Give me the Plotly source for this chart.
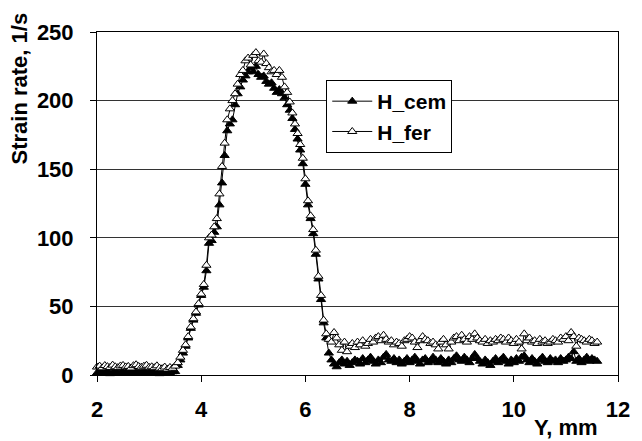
import plotly.graph_objects as go

# Y position along the specimen, mm
x_mm = [
    2.00, 2.05, 2.10, 2.15, 2.20, 2.25, 2.30, 2.35, 2.40, 2.45,
    2.50, 2.55, 2.60, 2.65, 2.70, 2.75, 2.80, 2.85, 2.90, 2.95,
    3.00, 3.05, 3.10, 3.15, 3.20, 3.25, 3.30, 3.35, 3.40, 3.45,
    3.50, 3.55, 3.60, 3.65, 3.70, 3.75, 3.80, 3.85, 3.90, 3.95,
    4.00, 4.05, 4.10, 4.15, 4.20, 4.25, 4.30, 4.35, 4.40, 4.45,
    4.50, 4.55, 4.60, 4.65, 4.70, 4.75, 4.80, 4.85, 4.90, 4.95,
    5.00, 5.05, 5.10, 5.15, 5.20, 5.25, 5.30, 5.35, 5.40, 5.45,
    5.50, 5.55, 5.60, 5.65, 5.70, 5.75, 5.80, 5.85, 5.90, 5.95,
    6.00, 6.05, 6.10, 6.15, 6.20, 6.25, 6.30, 6.35, 6.40, 6.45,
    6.50, 6.55, 6.60, 6.65, 6.70, 6.75, 6.80, 6.85, 6.90, 6.95,
    7.00, 7.05, 7.10, 7.15, 7.20, 7.25, 7.30, 7.35, 7.40, 7.45,
    7.50, 7.55, 7.60, 7.65, 7.70, 7.75, 7.80, 7.85, 7.90, 7.95,
    8.00, 8.05, 8.10, 8.15, 8.20, 8.25, 8.30, 8.35, 8.40, 8.45,
    8.50, 8.55, 8.60, 8.65, 8.70, 8.75, 8.80, 8.85, 8.90, 8.95,
    9.00, 9.05, 9.10, 9.15, 9.20, 9.25, 9.30, 9.35, 9.40, 9.45,
    9.50, 9.55, 9.60, 9.65, 9.70, 9.75, 9.80, 9.85, 9.90, 9.95,
    10.00, 10.05, 10.10, 10.15, 10.20, 10.25, 10.30, 10.35, 10.40, 10.45,
    10.50, 10.55, 10.60, 10.65, 10.70, 10.75, 10.80, 10.85, 10.90, 10.95,
    11.00, 11.05, 11.10, 11.15, 11.20, 11.25, 11.30, 11.35, 11.40, 11.45,
    11.50, 11.55, 11.60,
]

# Strain rate, 1/s
h_cem = [
    1.5, 2.0, 1.2, 1.8, 2.2, 1.0, 1.6, 2.4, 1.3, 1.9,
    2.1, 1.4, 1.7, 2.5, 1.1, 1.8, 2.0, 1.5, 2.3, 1.2,
    1.6, 1.9, 1.4, 2.2, 1.0, 1.7, 1.3, 2.0, 1.5, 2.4,
    2.5, 7, 11, 16, 21, 27, 34, 40, 45, 51,
    58, 64, 76, 96, 98, 104, 108, 124, 140, 160,
    178, 183, 186, 197, 205, 210, 215, 218, 221, 224,
    221, 225, 219, 217, 218, 214, 212, 213, 209, 206,
    208, 205, 202, 197, 193, 187, 179, 172, 164, 154,
    139, 124, 114, 103, 88, 70, 55, 38, 27, 16,
    11, 8, 6, 9, 11, 8, 10, 7, 9, 11,
    10, 8, 12, 9, 11, 13, 10, 8, 11, 9,
    13, 15, 11, 10, 12, 9, 11, 8, 10, 12,
    9, 11, 13, 10, 8, 11, 12, 9, 10, 13,
    11, 9, 12, 10, 8, 11, 9, 12, 14, 11,
    10, 13, 11, 9, 12, 15, 12, 10, 8, 11,
    9, 7, 10, 12, 9, 11, 13, 10, 8, 11,
    9, 12, 10, 13, 14, 11, 9, 12, 10, 8,
    11, 13, 10, 9, 12, 10, 11, 9, 12, 10,
    11, 13, 12, 17, 10, 12, 9, 11, 13, 10,
    12, 11, 10,
]

h_fer = [
    5.8, 6.5, 5.2, 6.9, 6.1, 5.5, 7.2, 6.0, 5.4, 6.6,
    7.0, 5.9, 6.3, 5.1, 6.8, 7.5, 6.2, 5.7, 6.4, 7.1,
    5.6, 6.0, 5.3, 6.7, 5.0, 4.6, 5.8, 4.3, 5.5, 4.9,
    6.5, 9, 13, 18, 22, 28, 35, 41, 46, 52,
    59, 66, 80, 100, 102, 108, 114, 132, 152, 169,
    186, 194, 200, 205, 212, 219, 222, 229, 231, 226,
    233, 235, 229, 228, 234, 227, 224, 221, 222, 219,
    222, 217, 210, 206, 199, 191, 183, 176, 168, 158,
    143, 127, 116, 106, 91, 72, 58, 40, 30, 26,
    24, 31, 27, 22, 18, 24, 17, 21, 23, 20,
    24, 22, 25, 21, 23, 26, 24, 27, 28, 25,
    29, 26, 24, 25, 22, 24, 23, 21, 25, 26,
    28, 27, 24, 20, 25, 28, 26, 25, 23, 24,
    22, 19, 24, 26, 22, 19, 24, 27, 28, 25,
    29, 26, 24, 28, 26, 30, 27, 25, 24, 26,
    23, 25, 24, 26, 25, 27, 26, 24, 27, 25,
    23, 26, 24, 19, 30, 25, 27, 24, 25, 23,
    26, 24, 25, 23, 24, 26, 25, 24, 27, 26,
    28, 25, 31, 28, 21, 27, 26, 25, 24, 26,
    25, 23, 24,
]

assert len(x_mm) == len(h_cem) == len(h_fer)

x_ticks = [2, 4, 6, 8, 10, 12]
y_ticks = [0, 50, 100, 150, 200, 250]

FONT = "Liberation Sans, Arial, sans-serif"

fig = go.Figure()
fig.add_trace(go.Scatter(
    x=x_mm, y=h_cem, name="H_cem", mode="lines+markers",
    line=dict(color="black", width=1),
    marker=dict(symbol="triangle-up", size=8, color="black",
                line=dict(color="black", width=1)),
    cliponaxis=False,
))
fig.add_trace(go.Scatter(
    x=x_mm, y=h_fer, name="H_fer", mode="lines+markers",
    line=dict(color="black", width=1),
    marker=dict(symbol="triangle-up", size=8, color="white",
                line=dict(color="black", width=1)),
    cliponaxis=False,
))

fig.update_layout(
    width=634, height=433,
    margin=dict(l=89, r=15, t=16, b=66),
    paper_bgcolor="white", plot_bgcolor="white",
    font=dict(family=FONT, color="black"),
    showlegend=True,
    legend=dict(
        x=0.44, y=0.86, xanchor="left", yanchor="top",
        bordercolor="black", borderwidth=1, bgcolor="white",
        font=dict(family=FONT, size=21, weight="bold", color="black"),
        itemwidth=40, traceorder="normal",
    ),
    xaxis=dict(
        range=[2, 12], tickvals=x_ticks, ticks="outside", ticklen=6,
        tickcolor="black", showline=True, linecolor="black", linewidth=1,
        mirror=True, showgrid=False, zeroline=False,
        tickfont=dict(family=FONT, size=22, weight="bold", color="black"),
        ticklabelstandoff=9,
    ),
    yaxis=dict(
        range=[0, 250], tickvals=y_ticks, ticks="outside", ticklen=6,
        tickcolor="black", showline=True, linecolor="black", linewidth=1,
        mirror=True, showgrid=True, gridcolor="#333333", gridwidth=1,
        zeroline=False,
        tickfont=dict(family=FONT, size=22, weight="bold", color="black"),
        ticklabelstandoff=12,
    ),
    annotations=[
        dict(text="Strain rate, 1/s", textangle=-90, xref="paper", yref="paper",
             x=-0.148, y=0.835, xanchor="center", yanchor="middle", showarrow=False,
             font=dict(family=FONT, size=22, weight="bold", color="black")),
        dict(text="Y, mm", xref="paper", yref="paper",
             x=0.9, y=-0.154, xanchor="center", yanchor="middle", showarrow=False,
             font=dict(family=FONT, size=22, weight="bold", color="black")),
    ],
)

fig.write_html("out.html")
